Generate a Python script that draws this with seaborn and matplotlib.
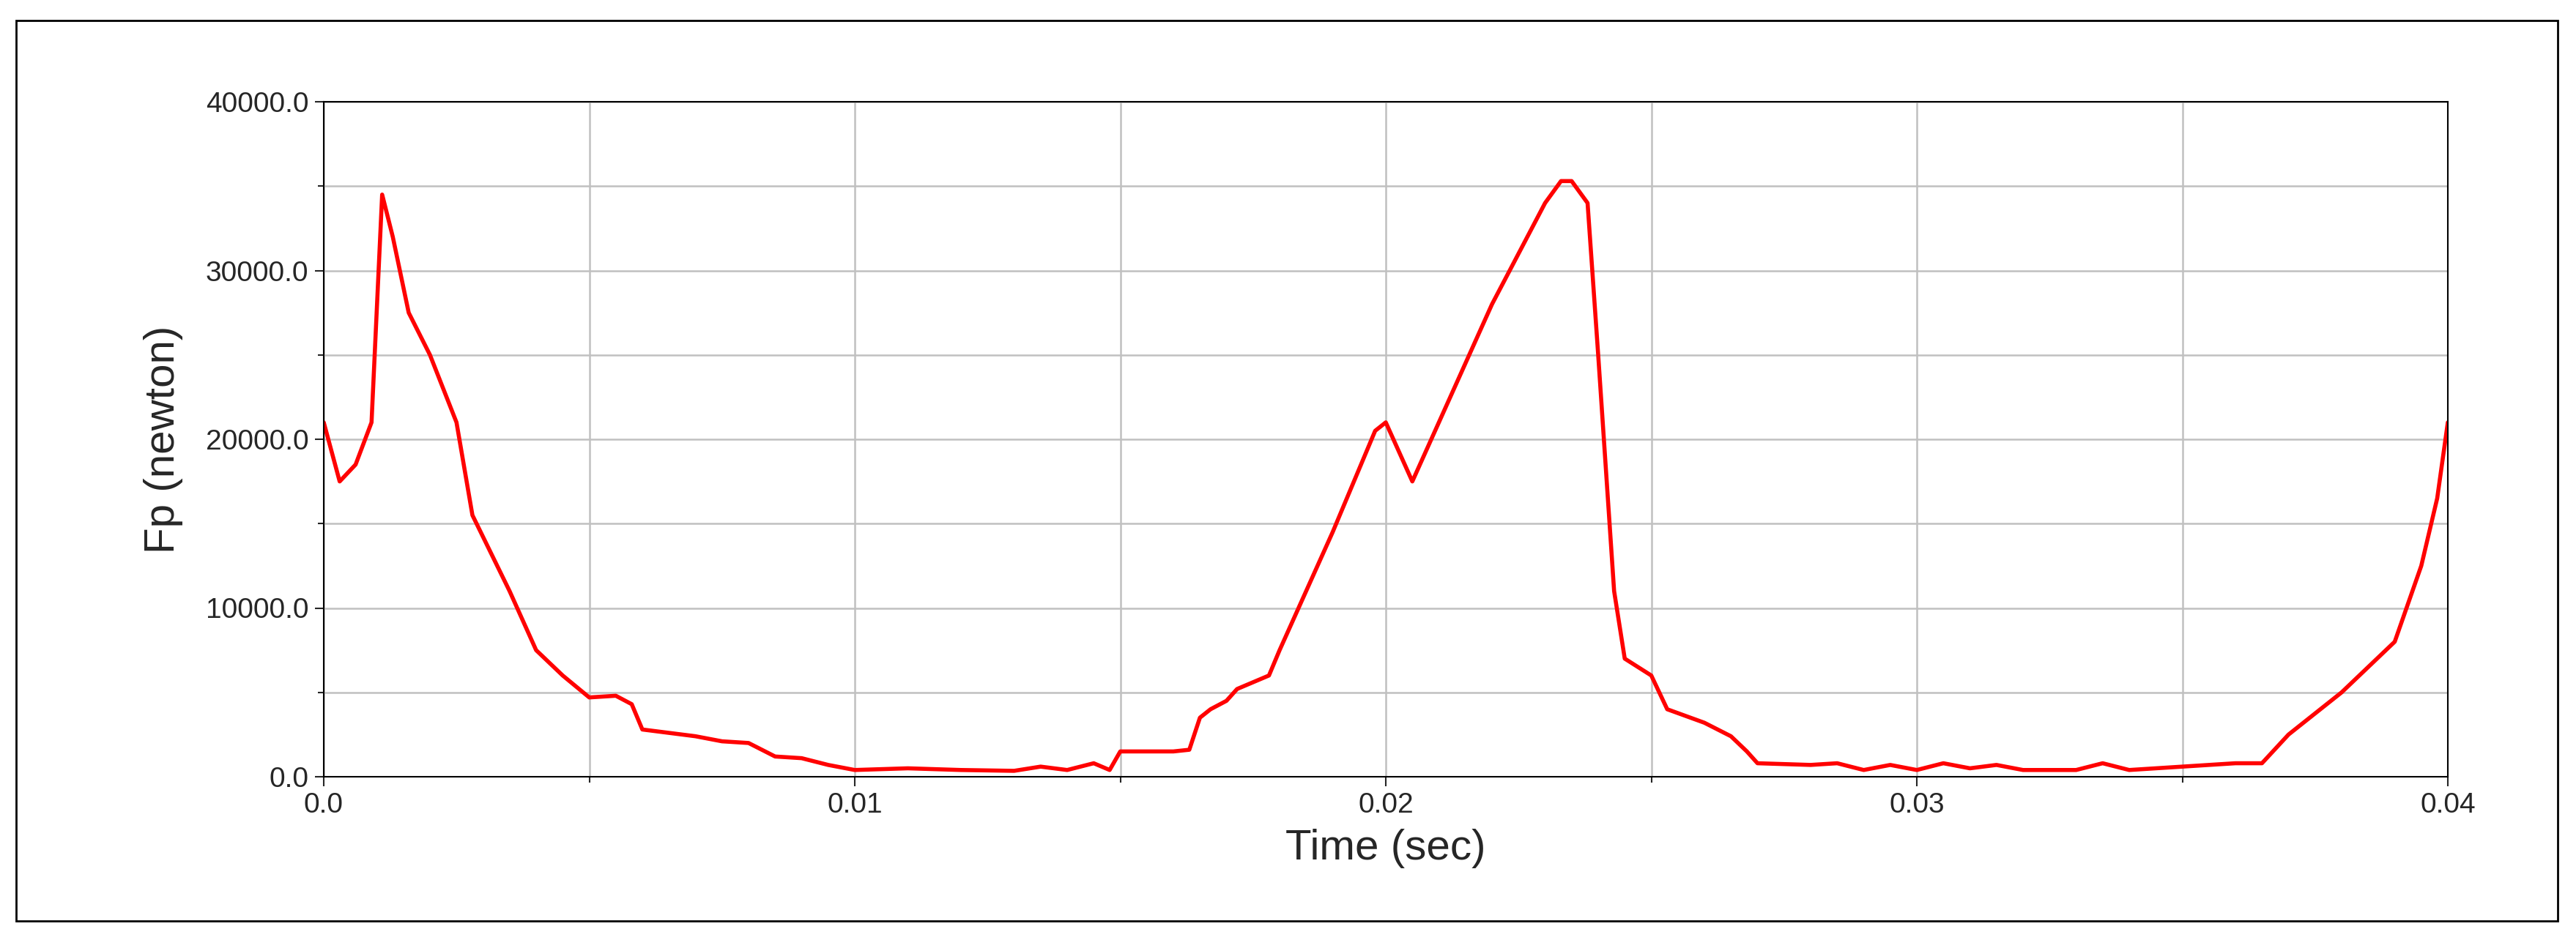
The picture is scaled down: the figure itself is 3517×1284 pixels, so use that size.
import matplotlib
matplotlib.use('Agg')
import matplotlib.pyplot as plt
import seaborn as sns
import pandas as pd
from matplotlib.ticker import MultipleLocator, FormatStrFormatter
from matplotlib.patches import Rectangle

# values
time_s = [0.0, 0.0003, 0.0006, 0.0009, 0.0011, 0.0013, 0.0016, 0.002, 0.0025, 0.0028,
          0.0035, 0.004, 0.0045, 0.005, 0.0055, 0.0058, 0.006, 0.0065, 0.007, 0.0075,
          0.008, 0.0085, 0.009, 0.0095, 0.010, 0.011, 0.012, 0.013, 0.0135, 0.014,
          0.0145, 0.0148, 0.015, 0.016, 0.0163, 0.0165, 0.0167, 0.017, 0.0172, 0.0178,
          0.018, 0.019, 0.0198, 0.020, 0.0205, 0.021, 0.022, 0.023, 0.0233, 0.0235,
          0.0238, 0.024, 0.0243, 0.0245, 0.025, 0.0253, 0.026, 0.0265, 0.0268, 0.027,
          0.028, 0.0285, 0.029, 0.0295, 0.030, 0.0305, 0.031, 0.0315, 0.032, 0.033,
          0.0335, 0.034, 0.035, 0.036, 0.0365, 0.037, 0.038, 0.039, 0.0395, 0.0398, 0.040]
force_n = [21000, 17500, 18500, 21000, 34500, 32000, 27500, 25000, 21000, 15500,
           11000, 7500, 6000, 4700, 4800, 4300, 2800, 2600, 2400, 2100,
           2000, 1200, 1100, 700, 400, 500, 400, 350, 600, 400,
           800, 400, 1500, 1500, 1600, 3500, 4000, 4500, 5200, 6000,
           7500, 14500, 20500, 21000, 17500, 21000, 28000, 34000, 35300, 35300,
           34000, 25000, 11000, 7000, 6000, 4000, 3200, 2400, 1500, 800,
           700, 800, 400, 700, 400, 800, 500, 700, 400, 400,
           800, 400, 600, 800, 800, 2500, 5000, 8000, 12500, 16500, 21000]

df = pd.DataFrame({'time': time_s, 'force': force_n})

sns.set_style('white')
plt.rcParams['font.family'] = ['Liberation Sans', 'DejaVu Sans']

fig = plt.figure(figsize=(35.17, 12.84), dpi=100, facecolor='w')
ax = fig.add_axes([442 / 3517, 1 - 1061 / 1284, 2900 / 3517, 922 / 1284])
fig.add_artist(Rectangle((22 / 3517, 26 / 1284), 3470 / 3517, 1230 / 1284,
                         transform=fig.transFigure, fill=False, edgecolor='black', linewidth=2))

sns.lineplot(x='time', y='force', data=df, color='red', linewidth=4, ax=ax)

ax.set_xlim(0, 0.04)
ax.set_ylim(0, 40000)
ax.xaxis.set_major_locator(MultipleLocator(0.01))
ax.xaxis.set_minor_locator(MultipleLocator(0.005))
ax.yaxis.set_major_locator(MultipleLocator(10000))
ax.yaxis.set_minor_locator(MultipleLocator(5000))
ax.xaxis.set_major_formatter(lambda v, p: '0.0' if v == 0 else f'{v:g}')
ax.yaxis.set_major_formatter(FormatStrFormatter('%.1f'))
ax.grid(which='both', color='#c0c0c0', linewidth=1.8)
ax.tick_params(axis='both', which='both', labelsize=28, direction='out',
               length=9, width=1.5, bottom=True, left=True, pad=6)
ax.tick_params(which='minor', length=6)
for s in ax.spines.values():
    s.set_color('black')
    s.set_linewidth(1.5)

ax.set_xlabel('Time (sec)', fontsize=42, labelpad=10)
ax.set_ylabel('Fp (newton)', fontsize=42, labelpad=22)

fig.savefig('out.png', dpi=100)
